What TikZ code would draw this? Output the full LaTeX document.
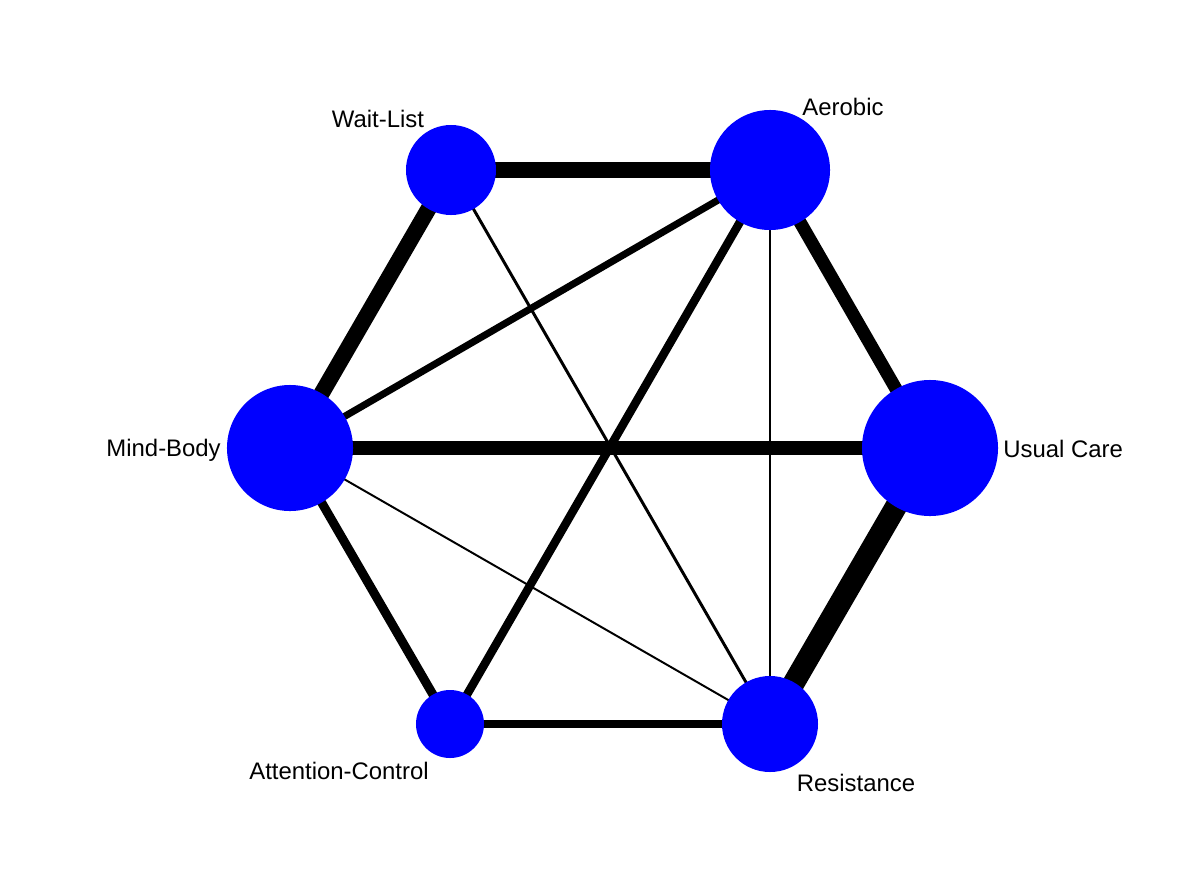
\documentclass[tikz,border=0pt]{standalone}
\usepackage{fontspec}
\setmainfont{Liberation Sans}
\usepackage{tikz}
\usetikzlibrary{
    positioning,
    backgrounds
}
\definecolor{Cnode}{RGB}{0, 0, 255}
\tikzset{
    tnode/.style={
        circle, fill=Cnode, draw=none, inner sep=0pt
    },
    tlabel/.style={
        inner sep=0pt, font=\fontsize{17}{20}\selectfont, text=black
    },
    tedge/.style={draw=black, line cap=butt},
}

\begin{document}
\begin{tikzpicture}[x=0.025cm, y=-0.025cm]

    \useasboundingbox (0,0) rectangle (1204,882);

    % ── 六个治疗节点 ──────────────────────────────────────
    \node [tnode, minimum size=2.25cm] (waitlist)  at (451,170) {};
    \node [tnode, minimum size=3.0cm]  (aerobic)   at (770,170) {};
    \node [tnode, minimum size=3.4cm]  (usualcare) at (930,448) {};
    \node [tnode, minimum size=2.4cm]  (resist)    at (770,724) {};
    \node [tnode, minimum size=1.7cm]  (attention) at (450,724) {};
    \node [tnode, minimum size=3.15cm] (mindbody)  at (290,448) {};

    % ── 节点标签 ──────────────────────────────────────────
    \node [tlabel] (lwaitlist)  at (378,119) {Wait-List};
    \node [tlabel] (laerobic)   at (843,107) {Aerobic};
    \node [tlabel, anchor=west] (lusualcare) at (1003,449) {Usual Care};
    \node [tlabel] (lresist)    at (856,783) {Resistance};
    \node [tlabel] (lattention) at (339,771) {Attention-Control};
    \node [tlabel, anchor=east] (lmindbody)  at (221,450) {Mind-Body};

    % ── 比较连线（线宽 = 研究数）─────────────────────────
    \begin{scope}[on background layer]
        \draw [tedge, line width=10.7pt] (waitlist.center) -- (aerobic.center);
        \draw [tedge, line width=11.4pt] (waitlist.center) -- (mindbody.center);
        \draw [tedge, line width=2.1pt]  (waitlist.center) -- (resist.center);
        \draw [tedge, line width=5.0pt]  (aerobic.center) -- (mindbody.center);
        \draw [tedge, line width=9.2pt]  (aerobic.center) -- (usualcare.center);
        \draw [tedge, line width=6.0pt]  (aerobic.center) -- (attention.center);
        \draw [tedge, line width=1.1pt]  (aerobic.center) -- (resist.center);
        \draw [tedge, line width=10.0pt] (mindbody.center) -- (usualcare.center);
        \draw [tedge, line width=6.4pt]  (mindbody.center) -- (attention.center);
        \draw [tedge, line width=1.4pt]  (mindbody.center) -- (resist.center);
        \draw [tedge, line width=15.6pt] (usualcare.center) -- (resist.center);
        \draw [tedge, line width=5.0pt]  (attention.center) -- (resist.center);
    \end{scope}

\end{tikzpicture}
\end{document}
